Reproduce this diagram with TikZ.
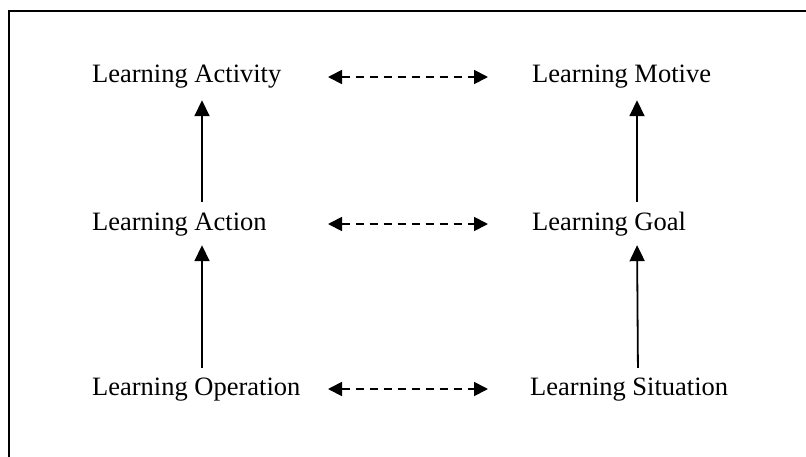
\documentclass[tikz,border=0pt]{standalone}
\usepackage{fontspec}
\setmainfont{Liberation Serif}
\usetikzlibrary{arrows.meta,calc}
\begin{document}
\begin{tikzpicture}[x=1pt,y=-1pt,
  lbl/.style={inner sep=0pt, text height=18pt, text depth=6pt, anchor=base west,
    font=\fontsize{26.5pt}{30pt}\selectfont},
  uparr/.style={line width=1.8pt, -{Triangle[length=16pt,width=15pt]}},
  darr/.style={line width=1.8pt, dash pattern=on 8pt off 6pt,
    {Triangle[length=14pt,width=14pt]}-{Triangle[length=14pt,width=14pt]}},
  frame/.style={line width=1.8pt}]
\useasboundingbox (0,0) rectangle (806,456);
\begin{scope}
\clip (0,0) rectangle (806,456);
\draw[frame] (9,11) rectangle (830,480);
\end{scope}
% column and dashed-arrow reference coordinates
\coordinate (colL) at (202,0);
\coordinate (colR) at (637,0);
\coordinate (dL) at (328,0);
\coordinate (dR) at (488,0);
% labels
\node[lbl] (act) at (92,82) {Learning Activity};
\node[lbl] (mot) at (532,82) {Learning Motive};
\node[lbl] (acn) at (92,230) {Learning Action};
\node[lbl] (goal) at (532,230) {Learning Goal};
\node[lbl] (opn) at (92,395) {Learning Operation};
\node[lbl] (sit) at (530,395) {Learning Situation};
% vertical arrows
\draw[uparr, shorten <=10pt, shorten >=12pt] (acn.north -| colL) -- (act.south -| colL);
\draw[uparr, shorten <=9pt, shorten >=9pt] (opn.north -| colL) -- (acn.south -| colL);
\draw[uparr, shorten <=10pt, shorten >=12pt] (goal.north -| colR) -- (mot.south -| colR);
\draw[uparr, shorten <=9pt, shorten >=9pt] ($(sit.north -| colR)+(1,0)$) -- (goal.south -| colR);
% dashed double arrows
\draw[darr] ($(act.base -| dL)+(0,-5)$) -- ($(mot.base -| dR)+(0,-5)$);
\draw[darr] ($(acn.base -| dL)+(0,-6)$) -- ($(goal.base -| dR)+(0,-6)$);
\draw[darr] ($(opn.base -| dL)+(0,-6)$) -- ($(sit.base -| dR)+(0,-6)$);
\end{tikzpicture}
\end{document}
